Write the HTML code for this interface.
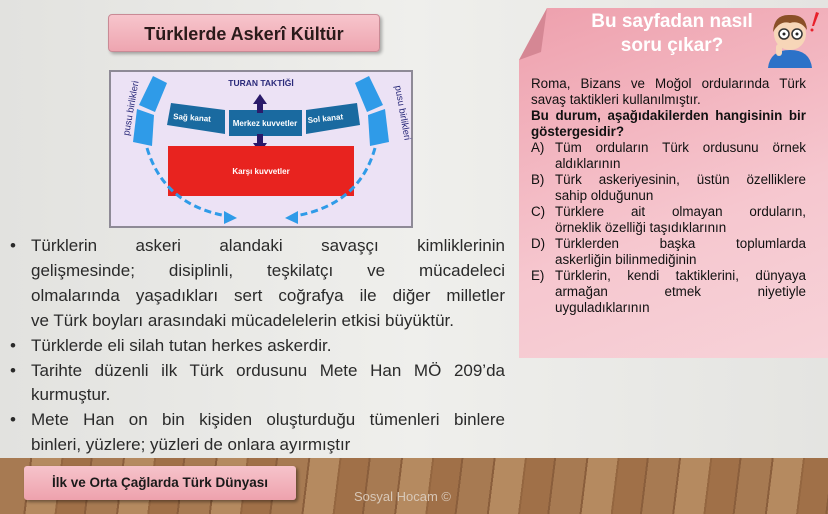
<!DOCTYPE html>
<html><head><meta charset="utf-8"><style>
*{margin:0;padding:0;box-sizing:border-box}
body{width:828px;height:514px;overflow:hidden;position:relative;background:linear-gradient(90deg,#e2e2df,#efefec 50%,#e4e4e1);font-family:"Liberation Sans",sans-serif}
.a{position:absolute}
.l{position:absolute;left:31px;width:474px;font-size:17px;color:#2a2a2a;text-align:justify;text-align-last:justify;white-space:nowrap;height:24px;line-height:24px}
.l.n{text-align-last:left}
.b{position:absolute;left:10px;font-size:17px;line-height:24px;color:#2a2a2a}
.r{position:absolute;left:531px;width:275px;font-size:13.4px;color:#111;line-height:16px;height:16px;text-align:justify;text-align-last:justify;white-space:nowrap}
.r.n{text-align-last:left}
.r.i{left:555px;width:251px}
.r.k{font-weight:bold}
.lt{position:absolute;left:531px;font-size:13.4px;line-height:16px;color:#111}
</style></head><body>
<div class="a" style="left:108px;top:14px;width:272px;height:38px;background:linear-gradient(#f7c5cc,#eea5b0);border:1px solid #c98a95;border-radius:4px;box-shadow:2px 2px 3px rgba(0,0,0,.3);font-weight:bold;font-size:18px;color:#2a1a1a;text-align:center;line-height:38px">Türklerde Askerî Kültür</div>
<div class="a" style="left:109px;top:70px;width:304px;height:158px;background:#ece2f5;border:2px solid #8e8a96"></div>
<svg class="a" style="left:109px;top:70px" width="304" height="158">
<text x="152" y="16" font-size="8.5" font-weight="bold" fill="#2a2a7a" text-anchor="middle" font-family="Liberation Sans">TURAN TAKTİĞİ</text>
<path d="M44 6 L58 13 L46 42 L30 35 Z" fill="#2f9be8"/>
<path d="M28 39 L45 45 L43 76 L24 72 Z" fill="#2f9be8"/>
<path d="M260 6 L246 13 L258 42 L274 35 Z" fill="#2f9be8"/>
<path d="M276 39 L259 45 L261 76 L280 72 Z" fill="#2f9be8"/>
<text font-size="9.5" fill="#2a2a7a" font-family="Liberation Sans" transform="translate(20,66) rotate(-80)">pusu birlikleri</text>
<text font-size="9.5" fill="#2a2a7a" font-family="Liberation Sans" transform="translate(286,16) rotate(80)">pusu birlikleri</text>
<path d="M62 33 L116 40 L116 64 L58 55 Z" fill="#1a6aa0"/>
<path d="M120 40 L193 40 L193 66 L120 66 Z" fill="#1a6aa0"/>
<path d="M197 40 L248 33 L251 55 L197 64 Z" fill="#1a6aa0"/>
<text x="64" y="49" font-size="8" font-weight="bold" fill="#fff" font-family="Liberation Sans" transform="rotate(4 64 49)">Sağ kanat</text>
<text x="156" y="56" font-size="8" font-weight="bold" fill="#fff" text-anchor="middle" font-family="Liberation Sans">Merkez kuvvetler</text>
<text x="199" y="53" font-size="8" font-weight="bold" fill="#fff" font-family="Liberation Sans" transform="rotate(-6 199 53)">Sol kanat</text>
<path d="M148 43 L148 34 L144 34 L151 24 L158 34 L154 34 L154 43 Z" fill="#2a1a6a"/>
<path d="M148 64 L148 73 L144 73 L151 83 L158 73 L154 73 L154 64 Z" fill="#2a1a6a"/>
<rect x="59" y="76" width="186" height="50" fill="#e8231f"/>
<text x="152" y="104" font-size="8" font-weight="bold" fill="#fff" text-anchor="middle" font-family="Liberation Sans">Karşı kuvvetler</text>
<path d="M38 78 Q55 135 118 146" fill="none" stroke="#2f9be8" stroke-width="3" stroke-dasharray="7 4"/>
<path d="M128 148 L115 141 L115 154 Z" fill="#2f9be8"/>
<path d="M266 78 Q250 135 186 146" fill="none" stroke="#2f9be8" stroke-width="3" stroke-dasharray="7 4"/>
<path d="M176 148 L189 141 L189 154 Z" fill="#2f9be8"/>
</svg>
<div class="b" style="top:234px">•</div>
<div class="l" style="top:234px">Türklerin askeri alandaki savaşçı kimliklerinin</div>
<div class="l" style="top:259px">gelişmesinde; disiplinli, teşkilatçı ve mücadeleci</div>
<div class="l" style="top:284px">olmalarında yaşadıkları sert coğrafya ile diğer milletler</div>
<div class="l n" style="top:309px">ve Türk boyları arasındaki mücadelelerin etkisi büyüktür.</div>
<div class="b" style="top:334px">•</div>
<div class="l n" style="top:334px">Türklerde eli silah tutan herkes askerdir.</div>
<div class="b" style="top:359px">•</div>
<div class="l" style="top:359px">Tarihte düzenli ilk Türk ordusunu Mete Han MÖ 209’da</div>
<div class="l n" style="top:383px">kurmuştur.</div>
<div class="b" style="top:408px">•</div>
<div class="l" style="top:408px">Mete Han on bin kişiden oluşturduğu tümenleri binlere</div>
<div class="l n" style="top:433px">binleri, yüzlere; yüzleri de onlara ayırmıştır</div>
<div class="a" style="left:519px;top:8px;width:309px;height:350px;background:linear-gradient(160deg,#eea0ad,#f6c7cf 60%,#f7d2d8);clip-path:polygon(28px 0,100% 0,100% 100%,0 100%,0 52px);box-shadow:0 0 3px rgba(0,0,0,.2)"></div>
<div class="a" style="left:519px;top:8px;width:28px;height:52px;background:#d58794;clip-path:polygon(28px 0,0 52px,22px 44px)"></div>
<div class="a" style="left:572px;top:10px;width:200px;text-align:center;color:#fff;font-weight:bold;font-size:19px;line-height:24px">Bu sayfadan nasıl<br>soru çıkar?</div>
<svg class="a" style="left:760px;top:6px" width="62" height="62">
<path d="M8 62 Q10 44 30 44 Q50 44 52 62 Z" fill="#2c72c8"/>
<circle cx="30" cy="28" r="16" fill="#f7d6b8"/>
<path d="M13 26 Q14 8 30 9 Q46 8 47 24 Q40 14 30 17 Q20 14 13 26 Z" fill="#8a5028"/>
<circle cx="24" cy="28" r="5" fill="#fff" stroke="#333" stroke-width="1.5"/>
<circle cx="37" cy="28" r="5" fill="#fff" stroke="#333" stroke-width="1.5"/>
<circle cx="24" cy="28" r="1.5" fill="#222"/><circle cx="37" cy="28" r="1.5" fill="#222"/>
<rect x="16" y="38" width="6" height="12" rx="3" fill="#f7d6b8"/>
<path d="M56 6 L52 20 L54 20 L59 7 Z" fill="#e8202a"/><circle cx="52" cy="24" r="1.5" fill="#e8202a"/>
</svg>
<div class="r" style="top:76px">Roma, Bizans ve Moğol ordularında Türk</div>
<div class="r n" style="top:92px">savaş taktikleri kullanılmıştır.</div>
<div class="r k" style="top:108px">Bu durum, aşağıdakilerden hangisinin bir</div>
<div class="r k n" style="top:124px">göstergesidir?</div>
<div class="lt" style="top:140px">A)</div><div class="r i" style="top:140px">Tüm orduların Türk ordusunu örnek</div>
<div class="r i n" style="top:156px">aldıklarının</div>
<div class="lt" style="top:172px">B)</div><div class="r i" style="top:172px">Türk askeriyesinin, üstün özelliklere</div>
<div class="r i n" style="top:188px">sahip olduğunun</div>
<div class="lt" style="top:204px">C)</div><div class="r i" style="top:204px">Türklere ait olmayan orduların,</div>
<div class="r i n" style="top:220px">örneklik özelliği taşıdıklarının</div>
<div class="lt" style="top:236px">D)</div><div class="r i" style="top:236px">Türklerden başka toplumlarda</div>
<div class="r i n" style="top:252px">askerliğin bilinmediğinin</div>
<div class="lt" style="top:268px">E)</div><div class="r i" style="top:268px">Türklerin, kendi taktiklerini, dünyaya</div>
<div class="r i" style="top:284px">armağan etmek niyetiyle</div>
<div class="r i n" style="top:300px">uyguladıklarının</div>
<div class="a" style="left:0;top:458px;width:828px;height:56px;background:repeating-linear-gradient(97deg,#a77a52 0 30px,#8a5e3c 30px 32px,#b58a60 32px 61px,#946640 61px 63px,#a07048 63px 90px,#8a5e3c 90px 92px),#a57a52"></div>
<div class="a" style="left:24px;top:466px;width:272px;height:34px;background:linear-gradient(#f6c3cb,#eea2ad);border-radius:3px;box-shadow:2px 2px 3px rgba(0,0,0,.4);font-weight:bold;font-size:13.5px;color:#1a1a1a;line-height:34px;text-align:center">İlk ve Orta Çağlarda Türk Dünyası</div>
<div class="a" style="left:354px;top:489px;font-size:13px;color:#d8c8b8">Sosyal Hocam ©</div>
</body></html>
